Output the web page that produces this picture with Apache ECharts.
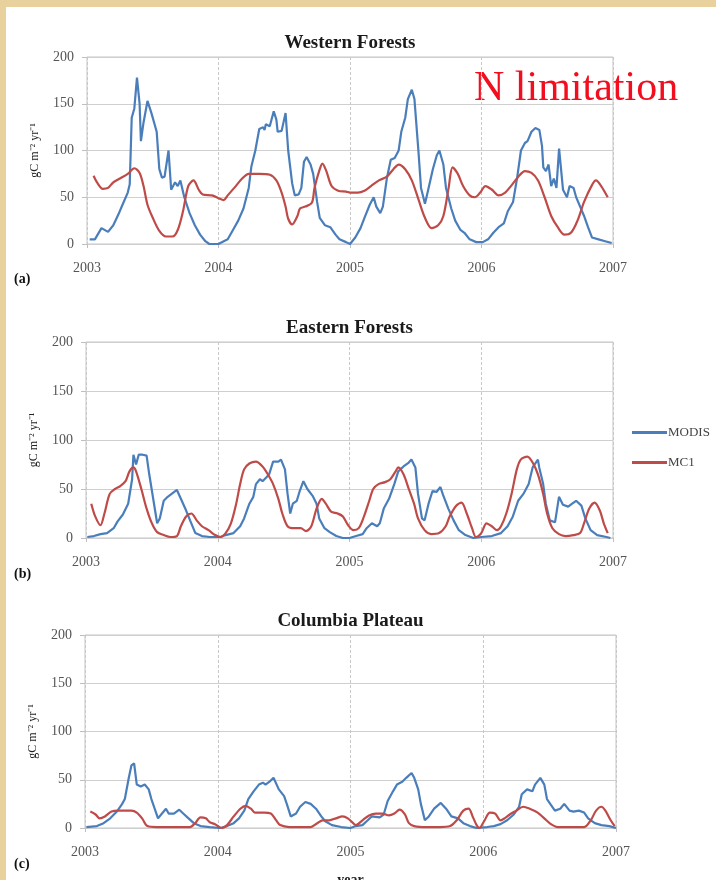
<!DOCTYPE html>
<html>
<head>
<meta charset="utf-8">
<script src="https://cdn.jsdelivr.net/npm/echarts@6/dist/echarts.min.js"></script>
<style>
  html, body { margin: 0; padding: 0; background: #fff; }
  #main { width: 716px; height: 880px; }
</style>
</head>
<body>
<div id="main"></div>
<script>
// panel titles / labels
var panelTitles = ["Western Forests", "Eastern Forests", "Columbia Plateau"];
var panelTags = ["(a)", "(b)", "(c)"];
var yTicks = [0, 50, 100, 150, 200];
var yearTicks = [2003, 2004, 2005, 2006, 2007];

// [year, gC m-2 yr-1]
var westernModis = [
  [2003.02,5],[2003.06,5],[2003.11,17],[2003.16,13],[2003.20,20],[2003.24,32],[2003.27,42],[2003.31,55],
  [2003.325,64],[2003.34,135],[2003.36,145],[2003.38,178],[2003.40,150],[2003.41,110],[2003.43,130],
  [2003.46,153],[2003.49,140],[2003.53,120],[2003.55,80],[2003.57,71],[2003.59,72],[2003.62,100],
  [2003.64,58],[2003.67,66],[2003.69,62],[2003.71,68],[2003.74,50],[2003.78,33],[2003.82,20],[2003.86,10],
  [2003.90,3],[2003.93,0],[2004.00,0],[2004.04,3],[2004.07,5],[2004.11,15],[2004.15,25],[2004.19,38],
  [2004.23,60],[2004.25,83],[2004.28,100],[2004.31,123],[2004.34,125],[2004.35,122],[2004.36,128],
  [2004.39,126],[2004.42,142],[2004.44,133],[2004.45,120],[2004.48,121],[2004.51,140],[2004.53,100],
  [2004.56,65],[2004.58,52],[2004.61,53],[2004.63,60],[2004.65,88],[2004.67,93],[2004.70,85],[2004.72,75],
  [2004.75,45],[2004.77,28],[2004.81,20],[2004.85,18],[2004.89,10],[2004.92,5],[2004.97,2],[2005.00,0],
  [2005.04,7],[2005.08,17],[2005.11,28],[2005.15,42],[2005.18,50],[2005.20,40],[2005.23,33],[2005.25,40],
  [2005.28,70],[2005.31,90],[2005.34,92],[2005.37,100],[2005.39,120],[2005.42,135],[2005.44,155],
  [2005.47,165],[2005.49,155],[2005.52,100],[2005.54,60],[2005.57,43],[2005.59,55],[2005.63,80],
  [2005.66,95],[2005.68,100],[2005.71,85],[2005.73,60],[2005.77,38],[2005.80,25],[2005.84,15],[2005.87,12],
  [2005.91,5],[2005.96,2],[2006.01,2],[2006.05,5],[2006.09,12],[2006.13,18],[2006.17,22],[2006.20,35],
  [2006.24,45],[2006.27,70],[2006.30,100],[2006.33,108],[2006.35,110],[2006.38,120],[2006.41,124],
  [2006.44,122],[2006.46,105],[2006.47,82],[2006.49,78],[2006.51,85],[2006.53,62],[2006.55,70],[2006.57,60],
  [2006.59,102],[2006.62,58],[2006.65,50],[2006.67,62],[2006.70,60],[2006.72,50],[2006.75,40],[2006.78,30],
  [2006.81,18],[2006.84,7],[2006.89,5],[2006.94,3],[2006.99,1]
];
var westernMc1 = [
  [2003.05,73],[2003.08,65],[2003.12,59],[2003.16,60],[2003.20,66],[2003.25,70],[2003.31,75],[2003.36,81],
  [2003.40,76],[2003.43,62],[2003.46,42],[2003.50,28],[2003.55,14],[2003.60,8],[2003.65,8],[2003.69,15],
  [2003.73,35],[2003.77,62],[2003.81,68],[2003.85,58],[2003.88,53],[2003.95,52],[2004.00,49],[2004.04,47],
  [2004.07,52],[2004.12,60],[2004.18,70],[2004.23,75],[2004.31,75],[2004.39,74],[2004.44,68],[2004.48,55],
  [2004.51,40],[2004.53,27],[2004.56,21],[2004.60,30],[2004.62,38],[2004.66,40],[2004.71,44],[2004.73,60],
  [2004.77,80],[2004.79,86],[2004.82,78],[2004.86,62],[2004.91,57],[2004.97,56],[2005.00,55],[2005.06,55],
  [2005.11,57],[2005.16,62],[2005.22,68],[2005.28,72],[2005.33,80],[2005.37,85],[2005.42,80],[2005.47,68],
  [2005.52,48],[2005.57,28],[2005.62,17],[2005.67,20],[2005.71,30],[2005.75,60],[2005.78,82],[2005.82,75],
  [2005.86,62],[2005.91,52],[2005.95,50],[2005.99,55],[2006.03,62],[2006.08,58],[2006.13,52],[2006.18,55],
  [2006.23,63],[2006.28,72],[2006.33,78],[2006.38,76],[2006.43,68],[2006.48,50],[2006.53,30],[2006.58,18],
  [2006.63,10],[2006.68,12],[2006.73,25],[2006.78,45],[2006.84,63],[2006.87,68],[2006.91,62],[2006.96,50]
];
var easternModis = [
  [2003.01,1],[2003.06,2],[2003.11,4],[2003.16,5],[2003.21,10],[2003.24,17],[2003.28,24],[2003.32,35],
  [2003.35,60],[2003.36,85],[2003.38,75],[2003.40,85],[2003.43,85],[2003.46,84],[2003.48,65],[2003.51,40],
  [2003.54,15],[2003.56,20],[2003.59,38],[2003.62,42],[2003.66,46],[2003.69,49],[2003.72,40],[2003.76,28],
  [2003.79,18],[2003.83,5],[2003.88,2],[2003.94,1],[2004.02,1],[2004.06,3],[2004.12,5],[2004.17,12],
  [2004.20,20],[2004.24,35],[2004.27,42],[2004.29,55],[2004.32,60],[2004.34,58],[2004.37,62],[2004.39,65],
  [2004.42,78],[2004.46,78],[2004.48,80],[2004.51,70],[2004.53,45],[2004.55,25],[2004.57,35],[2004.60,38],
  [2004.62,47],[2004.65,58],[2004.68,50],[2004.72,43],[2004.75,35],[2004.77,20],[2004.81,10],[2004.85,6],
  [2004.90,2],[2004.95,0],[2005.00,0],[2005.05,2],[2005.10,4],[2005.13,10],[2005.17,15],[2005.21,12],
  [2005.23,15],[2005.26,30],[2005.30,40],[2005.34,55],[2005.37,68],[2005.41,73],[2005.45,77],[2005.47,80],
  [2005.50,72],[2005.52,45],[2005.55,20],[2005.57,18],[2005.60,35],[2005.63,48],[2005.66,47],[2005.69,52],
  [2005.71,44],[2005.75,30],[2005.79,18],[2005.83,8],[2005.88,3],[2005.94,0],[2006.00,1],[2006.08,2],
  [2006.15,5],[2006.20,12],[2006.24,22],[2006.28,38],[2006.32,45],[2006.36,55],[2006.39,72],[2006.43,80],
  [2006.44,72],[2006.47,55],[2006.49,35],[2006.52,18],[2006.56,16],[2006.59,42],[2006.62,34],[2006.66,32],
  [2006.69,35],[2006.72,38],[2006.76,33],[2006.79,20],[2006.83,8],[2006.88,3],[2006.95,1],[2006.98,0]
];
var easternMc1 = [
  [2003.04,35],[2003.07,22],[2003.11,13],[2003.14,25],[2003.18,45],[2003.22,50],[2003.26,53],[2003.30,58],
  [2003.33,68],[2003.36,72],[2003.38,68],[2003.42,50],[2003.46,30],[2003.50,15],[2003.54,6],[2003.59,3],
  [2003.64,1],[2003.69,2],[2003.72,12],[2003.76,22],[2003.80,25],[2003.84,18],[2003.88,12],[2003.93,8],
  [2003.98,3],[2004.02,1],[2004.06,5],[2004.10,15],[2004.14,35],[2004.17,55],[2004.20,70],[2004.24,76],
  [2004.29,78],[2004.34,73],[2004.38,65],[2004.42,55],[2004.46,40],[2004.49,25],[2004.53,12],[2004.58,10],
  [2004.63,10],[2004.67,7],[2004.71,12],[2004.75,30],[2004.79,40],[2004.82,35],[2004.86,27],[2004.91,25],
  [2004.95,22],[2004.99,13],[2005.03,8],[2005.07,10],[2005.11,22],[2005.15,38],[2005.18,50],[2005.22,55],
  [2005.27,57],[2005.31,60],[2005.35,68],[2005.37,72],[2005.41,65],[2005.45,50],[2005.49,35],[2005.52,20],
  [2005.57,8],[2005.62,4],[2005.68,5],[2005.73,12],[2005.76,22],[2005.81,33],[2005.85,36],[2005.89,25],
  [2005.93,10],[2005.96,1],[2006.00,5],[2006.04,15],[2006.08,12],[2006.12,8],[2006.15,12],[2006.19,25],
  [2006.23,45],[2006.27,70],[2006.30,80],[2006.35,83],[2006.39,77],[2006.43,65],[2006.47,45],[2006.50,25],
  [2006.54,10],[2006.59,4],[2006.64,2],[2006.70,3],[2006.75,5],[2006.78,15],[2006.82,30],[2006.86,36],
  [2006.90,28],[2006.93,15],[2006.96,5]
];
var columbiaModis = [
  [2003.01,1],[2003.09,2],[2003.14,5],[2003.19,10],[2003.24,17],[2003.28,25],[2003.30,30],[2003.33,52],
  [2003.35,65],[2003.37,67],[2003.39,45],[2003.42,43],[2003.45,45],[2003.48,40],[2003.50,30],[2003.53,18],
  [2003.55,10],[2003.58,15],[2003.61,20],[2003.63,15],[2003.67,15],[2003.71,19],[2003.74,15],[2003.78,10],
  [2003.82,5],[2003.87,2],[2003.94,1],[2004.02,0],[2004.07,2],[2004.12,5],[2004.16,10],[2004.20,18],
  [2004.23,30],[2004.27,38],[2004.31,45],[2004.34,47],[2004.36,45],[2004.39,48],[2004.42,52],[2004.46,40],
  [2004.50,33],[2004.52,25],[2004.55,12],[2004.59,15],[2004.62,22],[2004.66,27],[2004.70,25],[2004.74,20],
  [2004.78,12],[2004.81,7],[2004.86,3],[2004.93,1],[2005.00,0],[2005.04,2],[2005.09,3],[2005.13,8],
  [2005.16,12],[2005.22,11],[2005.25,14],[2005.28,28],[2005.32,38],[2005.35,45],[2005.39,48],[2005.42,52],
  [2005.46,57],[2005.48,52],[2005.51,40],[2005.53,25],[2005.56,8],[2005.59,12],[2005.63,20],[2005.68,26],
  [2005.72,20],[2005.76,12],[2005.81,10],[2005.85,5],[2005.90,2],[2005.95,0],[2006.03,1],[2006.08,2],
  [2006.13,4],[2006.18,8],[2006.23,14],[2006.27,22],[2006.29,35],[2006.33,40],[2006.37,38],[2006.39,45],
  [2006.43,52],[2006.46,45],[2006.48,30],[2006.52,22],[2006.54,18],[2006.58,20],[2006.61,25],[2006.65,18],
  [2006.68,17],[2006.72,18],[2006.76,16],[2006.79,10],[2006.84,5],[2006.89,3],[2006.95,2],[2007.00,0]
];
var columbiaMc1 = [
  [2003.04,17],[2003.08,14],[2003.11,10],[2003.15,12],[2003.20,17],[2003.25,18],[2003.30,18],[2003.35,18],
  [2003.39,16],[2003.43,10],[2003.47,2],[2003.54,1],[2003.64,1],[2003.72,1],[2003.79,1],[2003.83,5],
  [2003.87,11],[2003.91,10],[2003.94,6],[2003.98,4],[2004.03,0],[2004.07,3],[2004.12,12],[2004.17,20],
  [2004.21,23],[2004.25,20],[2004.28,16],[2004.35,16],[2004.40,15],[2004.44,8],[2004.47,3],[2004.54,1],
  [2004.62,1],[2004.70,1],[2004.75,5],[2004.79,8],[2004.84,8],[2004.89,10],[2004.94,12],[2004.98,10],
  [2005.02,5],[2005.04,3],[2005.09,8],[2005.14,13],[2005.19,15],[2005.24,15],[2005.29,13],[2005.33,15],
  [2005.37,19],[2005.41,14],[2005.44,5],[2005.48,2],[2005.57,1],[2005.67,1],[2005.75,2],[2005.80,8],
  [2005.85,18],[2005.89,20],[2005.92,12],[2005.95,3],[2005.97,0],[2006.01,8],[2006.05,16],[2006.09,15],
  [2006.13,8],[2006.16,10],[2006.20,14],[2006.25,18],[2006.30,22],[2006.35,20],[2006.41,16],[2006.46,10],
  [2006.51,4],[2006.56,1],[2006.66,1],[2006.76,1],[2006.81,8],[2006.85,18],[2006.89,22],[2006.92,18],
  [2006.96,8],[2006.99,2]
];

var modisData = [westernModis, easternModis, columbiaModis];
var mc1Data = [westernMc1, easternMc1, columbiaMc1];

var dom = document.getElementById("main");
var myChart = echarts.init(dom, null, { renderer: "canvas" });

var serif = "Liberation Serif";
var grids = [
  { left: 87, top: 57, width: 526, height: 187 },
  { left: 86, top: 342, width: 527, height: 196 },
  { left: 85, top: 635, width: 531, height: 193 }
];

var option;
var xAxes = [], yAxes = [], series = [], titles = [];

for (var i = 0; i < 3; i++) {
  grids[i].show = true;
  grids[i].borderColor = "#c4c4c4";
  grids[i].borderWidth = 1;
  grids[i].containLabel = false;
  grids[i].outerBoundsMode = "none"; // keep the plot box where it is

  titles.push({
    text: panelTitles[i],
    left: grids[i].left + grids[i].width / 2 - 5,
    textAlign: "center",
    top: grids[i].top - 28,
    textStyle: { fontFamily: serif, fontWeight: "bold", fontSize: 19, color: "#1a1a1a" }
  });

  xAxes.push({
    gridIndex: i,
    type: "value",
    min: yearTicks[0],
    max: yearTicks[yearTicks.length - 1],
    interval: 1,
    axisLine: { show: false },
    axisTick: { show: true, length: 4, lineStyle: { color: "#bfbfbf" } },
    axisLabel: {
      margin: 17,
      fontFamily: serif,
      fontSize: 14,
      color: "#555",
      formatter: function (v) { return String(v); }
    },
    splitLine: { show: true, lineStyle: { color: "#c8c8c8", type: [3, 2] } },
    name: i === 2 ? "year" : "",
    nameLocation: "middle",
    nameGap: 45,
    nameTextStyle: { fontFamily: serif, fontWeight: "bold", fontSize: 14, color: "#222" }
  });

  yAxes.push({
    gridIndex: i,
    type: "value",
    min: yTicks[0],
    max: yTicks[yTicks.length - 1],
    interval: 50,
    name: "gC m\u207B\u00B2 yr\u207B\u00B9",
    nameLocation: "middle",
    nameGap: 46,
    nameRotate: 90,
    nameTextStyle: { fontFamily: serif, fontSize: 12, color: "#222" },
    axisLine: { show: false },
    axisTick: { show: true, length: 5, lineStyle: { color: "#bfbfbf" } },
    axisLabel: { margin: 13, fontFamily: serif, fontSize: 14, color: "#555" },
    splitLine: { show: true, lineStyle: { color: "#cfcfcf", width: 1.2 } }
  });

  series.push({
    name: "MODIS",
    type: "line",
    xAxisIndex: i,
    yAxisIndex: i,
    showSymbol: false,
    symbol: "none",
    data: modisData[i],
    lineStyle: { color: "#4a7ebb", width: 2.2 },
    itemStyle: { color: "#4a7ebb" },
    z: 3
  });
  series.push({
    name: "MC1",
    type: "line",
    xAxisIndex: i,
    yAxisIndex: i,
    showSymbol: false,
    symbol: "none",
    smooth: 0.3,
    data: mc1Data[i],
    lineStyle: { color: "#be4b48", width: 2.2 },
    itemStyle: { color: "#be4b48" },
    z: 4
  });
}

option = {
  backgroundColor: "#fff",
  animation: false,
  title: titles,
  grid: grids,
  xAxis: xAxes,
  yAxis: yAxes,
  series: series,
  legend: {
    data: ["MODIS", "MC1"],
    orient: "vertical",
    left: 627,
    top: 421,
    icon: "rect",
    itemWidth: 35,
    itemHeight: 3,
    itemGap: 17,
    textStyle: { fontFamily: serif, fontSize: 13, color: "#444", padding: [0, 0, 0, -4] }
  },
  graphic: [
    // parchment border
    { type: "rect", left: 0, top: 0, shape: { width: 716, height: 7 }, style: { fill: "#e8d19c" } },
    { type: "rect", left: 0, top: 0, shape: { width: 6, height: 880 }, style: { fill: "#e8d19c" } },
    {
      type: "text", left: 474, top: 68,
      style: { text: "N limitation", font: "42px 'Liberation Serif'", fill: "#f20d1f" }
    },
    { type: "text", left: 14, top: 272, style: { text: panelTags[0], font: "bold 14px 'Liberation Serif'", fill: "#111" } },
    { type: "text", left: 14, top: 567, style: { text: panelTags[1], font: "bold 14px 'Liberation Serif'", fill: "#111" } },
    { type: "text", left: 14, top: 857, style: { text: panelTags[2], font: "bold 14px 'Liberation Serif'", fill: "#111" } }
  ]
};

if (option && typeof option === "object") {
  myChart.setOption(option);
}
</script>
</body>
</html>
